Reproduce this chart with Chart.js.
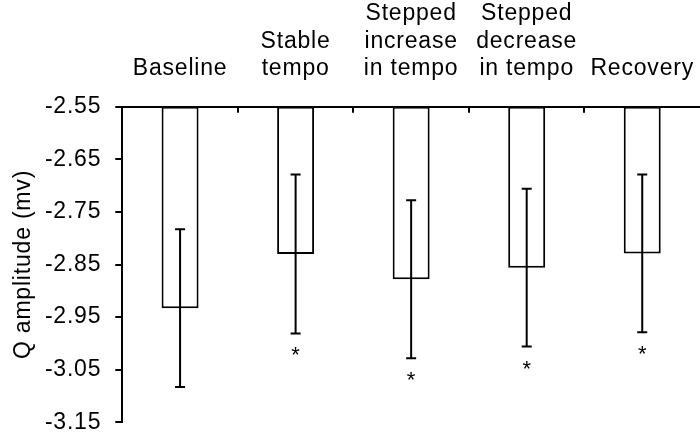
<!DOCTYPE html>
<html>
<head>
<meta charset="utf-8">
<script src="https://cdn.jsdelivr.net/npm/chart.js@4/dist/chart.umd.min.js"></script>
<style>
  html, body { margin: 0; padding: 0; background: #fff; overflow: hidden; }
  #wrap { width: 700px; height: 437px; position: relative; }
</style>
</head>
<body>
<div id="wrap"><canvas id="c"></canvas></div>
<script>
// ---- data ----
const categories = [
  ['Baseline'],
  ['Stable', 'tempo'],
  ['Stepped', 'increase', 'in tempo'],
  ['Stepped', 'decrease', 'in tempo'],
  ['Recovery']
];
const meanValues = [-2.933, -2.830, -2.878, -2.856, -2.829];
const sdValues = [0.150, 0.151, 0.150, 0.150, 0.150];
const significant = [false, true, true, true, true];
const yTickValues = [-3.15, -3.05, -2.95, -2.85, -2.75, -2.65, -2.55];
const axisTop = -2.55;
const axisBottom = -3.15;
const yTitle = 'Q amplitude (mv)';

const FONT = '"Liberation Sans", Arial, sans-serif';
const SPACING = '0.8px';

Chart.defaults.color = '#000';
Chart.defaults.font.family = FONT;

const spacingPlugin = {
  id: 'spacing',
  beforeUpdate(chart) { chart.ctx.letterSpacing = SPACING; },
  beforeLayout(chart) { chart.ctx.letterSpacing = SPACING; },
  beforeDraw(chart) { chart.ctx.letterSpacing = SPACING; }
};

const errorPlugin = {
  id: 'errorBars',
  afterDatasetsDraw(chart) {
    const ctx = chart.ctx;
    const xs = chart.scales.x, ys = chart.scales.y;
    ctx.save();
    ctx.strokeStyle = '#000';
    ctx.lineWidth = 2;
    ctx.lineCap = 'butt';
    meanValues.forEach((m, i) => {
      const x = xs.getPixelForValue(i);
      const yTop = ys.getPixelForValue(m + sdValues[i]);
      const yBot = ys.getPixelForValue(m - sdValues[i]);
      ctx.beginPath();
      ctx.moveTo(x, yTop); ctx.lineTo(x, yBot);
      ctx.moveTo(x - 5, yTop); ctx.lineTo(x + 5, yTop);
      ctx.moveTo(x - 5, yBot); ctx.lineTo(x + 5, yBot);
      ctx.stroke();
      if (significant[i]) {
        ctx.fillStyle = '#000';
        ctx.font = '22px ' + FONT;
        ctx.letterSpacing = '0px';
        ctx.textAlign = 'center';
        ctx.textBaseline = 'alphabetic';
        ctx.fillText('*', x, yBot + 29);
      }
    });
    // inward tick marks on top category axis at category boundaries
    for (let i = 0; i < categories.length - 1; i++) {
      const bx = (xs.getPixelForValue(i) + xs.getPixelForValue(i + 1)) / 2;
      ctx.beginPath();
      ctx.moveTo(Math.round(bx), xs.bottom);
      ctx.lineTo(Math.round(bx), xs.bottom + 6);
      ctx.stroke();
    }
    ctx.restore();
  }
};

new Chart(document.getElementById('c'), {
  type: 'bar',
  data: {
    labels: categories,
    datasets: [{
      data: meanValues.map(v => [axisTop, v]),
      backgroundColor: '#fff',
      borderColor: '#000',
      borderWidth: 2,
      borderSkipped: false,
      categoryPercentage: 1,
      barPercentage: 0.32
    }]
  },
  options: {
    responsive: true,
    maintainAspectRatio: false,
    animation: false,
    layout: { padding: { left: 0, right: 0, top: 0, bottom: 14.7 } },
    plugins: { legend: { display: false }, tooltip: { enabled: false } },
    scales: {
      x: {
        position: 'top',
        grid: { display: false },
        border: { display: true, color: '#000', width: 2 },
        ticks: {
          padding: 16,
          maxRotation: 0,
          autoSkip: false,
          font: { size: 23, lineHeight: 1.2 },
          color: '#000'
        },
        afterFit(s) { s.height = 106.7; s.paddingLeft = 0; s.paddingRight = 0; }
      },
      y: {
        min: axisBottom,
        max: axisTop,
        afterBuildTicks(s) { s.ticks = yTickValues.map(v => ({ value: v })); },
        grid: { drawOnChartArea: false, drawTicks: true, tickLength: 7, color: '#000', lineWidth: 2 },
        border: { display: true, color: '#000', width: 2 },
        ticks: {
          padding: 14,
          font: { size: 23 },
          color: '#000',
          callback: v => Number(v).toFixed(2)
        },
        title: {
          display: true,
          text: yTitle,
          font: { size: 23, lineHeight: 1.2 },
          color: '#000',
          padding: { top: 10, bottom: 0 }
        },
        afterFit(s) { s.width = 122.3; s.paddingTop = 0; s.paddingBottom = 0; }
      }
    }
  },
  plugins: [spacingPlugin, errorPlugin]
});
</script>
</body>
</html>
